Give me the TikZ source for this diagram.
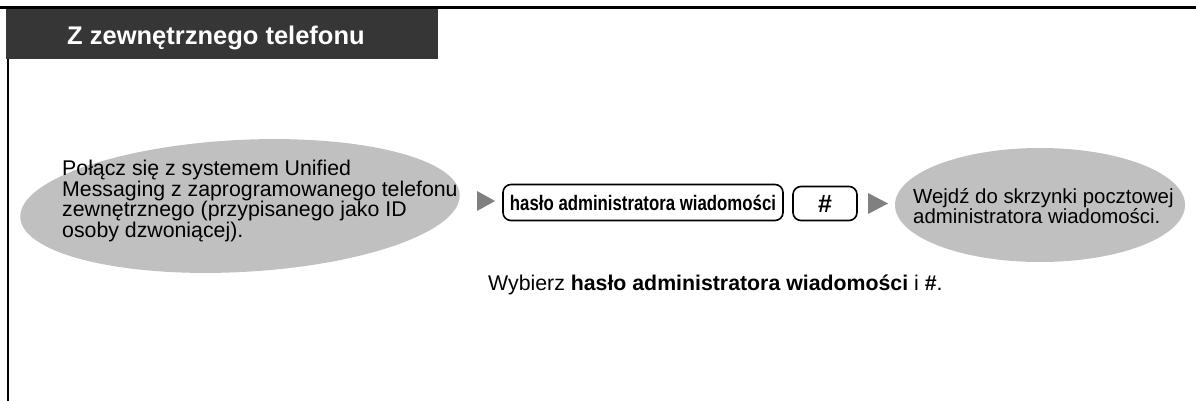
\documentclass[tikz,border=0pt]{standalone}
\usepackage{fontspec}
\usetikzlibrary{shapes.geometric}
\setmainfont{Liberation Sans}
\newfontfamily\narrowbold[FakeStretch=0.8]{Liberation Sans Bold}
\definecolor{titlebg}{HTML}{363636}
\definecolor{ellgray}{HTML}{C0C0C0}
\definecolor{trigray}{HTML}{808080}
\begin{document}
\begin{tikzpicture}[x=1pt,y=-1pt,
  ellnode/.style={ellipse, fill=ellgray, inner sep=0pt},
  keybox/.style={draw=black, line width=1.6pt, rounded corners=8pt, inner sep=0pt},
  txt/.style={inner sep=0pt, align=left}]
\useasboundingbox (0,0) rectangle (1196,401);
% frame lines
\coordinate (tl) at (0,7.7);
\coordinate (tr) at (1196,7.7);
\coordinate (lt) at (8.2,7);
\coordinate (lb) at (8.2,401);
\draw[line width=3pt] (tl) -- (tr);
\draw[line width=2.5pt] (lt) -- (lb);
% title
\fill[titlebg] (6,9) rectangle (438,59);
\node[txt, anchor=base west, text=white, font=\fontsize{25.5}{28}\selectfont\bfseries] (title) at (67,45) {Z zewnętrznego telefonu};
% left ellipse
\node[ellnode, minimum width=440, minimum height=132, rotate=3] (e1) at (240,206) {};
\node[txt, anchor=north west, font=\fontsize{21.3}{19.5}\selectfont] (t1) at (62,159.5) {Połącz się z systemem Unified\\Messaging z zaprogramowanego telefonu\\zewnętrznego (przypisanego jako ID\\osoby dzwoniącej).};
% triangles
\fill[trigray] (477,191) -- (495,201) -- (477,211) -- cycle;
% key boxes
\node[keybox, minimum width=280, minimum height=36, font=\fontsize{21}{24}\selectfont\narrowbold] (k1) at (643,202.5) {hasło administratora wiadomości};
\node[keybox, minimum width=64, minimum height=34, font=\fontsize{25}{28}\selectfont\bfseries] (k2) at (825,203.5) {\#};
\fill[trigray] (868,193) -- (888,203.5) -- (868,214) -- cycle;
% right ellipse
\node[ellnode, minimum width=290, minimum height=114] (e2) at (1040,205) {};
\node[txt, anchor=north west, font=\fontsize{20.4}{19}\selectfont] (t2) at (913,188.5) {Wejdź do skrzynki pocztowej\\administratora wiadomości.};
% bottom note
\node[txt, anchor=base west, font=\fontsize{21.3}{24}\selectfont] (note) at (488,290) {Wybierz \textbf{hasło administratora wiadomości} i \textbf{\#}.};
\end{tikzpicture}
\end{document}
